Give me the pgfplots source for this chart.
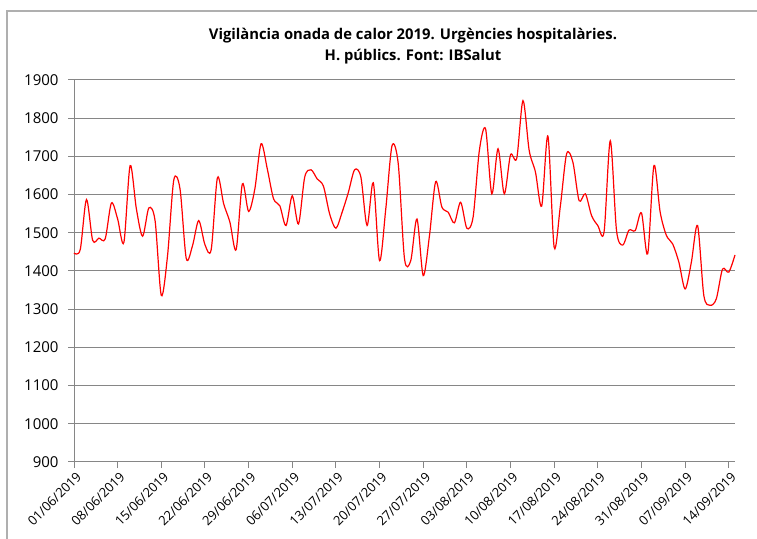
\documentclass[border=0pt]{standalone}
\usepackage{fontspec}
\setmainfont{Open Sans}
\usepackage{pgfplots}
\pgfplotsset{compat=1.18}
\definecolor{gridgray}{RGB}{134,134,134}
\definecolor{framegray}{RGB}{175,175,175}
\begin{document}
\begin{tikzpicture}
\path[use as bounding box] (0bp,0bp) rectangle (757bp,539bp);
\draw[framegray, line width=1.2bp] (7bp,0bp) -- (7bp,528bp) -- (757bp,528bp);
\node[font=\bfseries\fontsize{14.8bp}{21bp}\selectfont, align=center] at (413bp,493bp) {Vigilància onada de calor 2019. Urgències hospitalàries.\\H. públics. Font: IBSalut};
\begin{axis}[
  at={(74bp,77bp)}, anchor=south west,
  scale only axis, width=661bp, height=382bp,
  xmin=0, xmax=106, ymin=900, ymax=1900,
  ytick={900,1000,...,1900},
  xtick={0,7,...,105},
  xticklabels={01/06/2019,08/06/2019,15/06/2019,22/06/2019,29/06/2019,06/07/2019,13/07/2019,20/07/2019,27/07/2019,03/08/2019,10/08/2019,17/08/2019,24/08/2019,31/08/2019,07/09/2019,14/09/2019},
  xticklabel style={rotate=45, anchor=north east, font=\fontsize{13bp}{15bp}\selectfont, inner sep=1bp, xshift=0bp, yshift=-2bp},
  yticklabel style={font=\fontsize{15bp}{17bp}\selectfont, xshift=-6bp},
  /pgf/number format/assume math mode=true,
  /pgf/number format/1000 sep={},
  ymajorgrids, grid style={gridgray, line width=1bp},
  axis x line*=bottom, axis y line*=left,
  axis line style={gridgray, line width=1bp, -},
  tick style={gridgray, line width=1bp},
  tick align=outside, major tick length=6bp,
  clip=false,
]
\addplot[red, line width=1.2bp, smooth, tension=0.5] coordinates {
(0,1447)(1,1456)(2,1587)(3,1480)(4,1486)(5,1484)(6,1578)(7,1536)(8,1475)(9,1676)
(10,1563)(11,1491)(12,1565)(13,1532)(14,1336)(15,1440)(16,1638)(17,1615)(18,1433)(19,1466)
(20,1532)(21,1469)(22,1456)(23,1644)(24,1576)(25,1528)(26,1456)(27,1628)(28,1556)(29,1615)
(30,1733)(31,1667)(32,1589)(33,1571)(34,1519)(35,1597)(36,1523)(37,1646)(38,1665)(39,1641)
(40,1622)(41,1549)(42,1512)(43,1554)(44,1606)(45,1665)(46,1646)(47,1519)(48,1631)(49,1427)
(50,1563)(51,1728)(52,1680)(53,1432)(54,1427)(55,1536)(56,1388)(57,1492)(58,1634)(59,1567)
(60,1554)(61,1526)(62,1580)(63,1512)(64,1541)(65,1715)(66,1772)(67,1602)(68,1720)(69,1602)
(70,1704)(71,1695)(72,1846)(73,1715)(74,1659)(75,1570)(76,1753)(77,1462)(78,1571)(79,1707)
(80,1685)(81,1584)(82,1602)(83,1545)(84,1519)(85,1502)(86,1741)(87,1506)(88,1468)(89,1507)
(90,1506)(91,1552)(92,1445)(93,1676)(94,1554)(95,1493)(96,1471)(97,1423)(98,1353)(99,1423)
(100,1519)(101,1336)(102,1310)(103,1327)(104,1405)(105,1397)(106,1442)
};
\end{axis}
\end{tikzpicture}
\end{document}
